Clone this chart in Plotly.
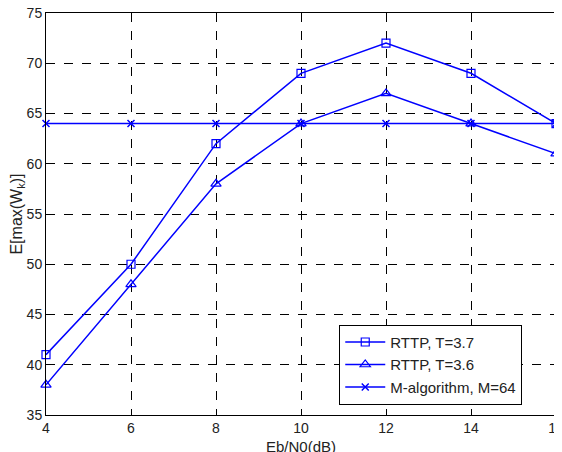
import plotly.graph_objects as go

ebn0 = [4, 6, 8, 10, 12, 14, 16]
rttp_37 = [41, 50, 62, 69, 72, 69, 64]
rttp_36 = [38, 48, 58, 64, 67, 64, 61]
m_alg = [64, 64, 64, 64, 64, 64, 64]

x_ticks = [4, 6, 8, 10, 12, 14, 16]
y_ticks = [35, 40, 45, 50, 55, 60, 65, 70, 75]

blue = '#0000ff'
font_family = 'Liberation Sans, Arial'
text_color = '#222222'

fig = go.Figure()
fig.add_trace(go.Scatter(
    x=ebn0, y=rttp_37, name='RTTP, T=3.7', mode='lines+markers',
    line=dict(color=blue, width=1.5),
    marker=dict(symbol='square-open', size=8, color=blue, line=dict(width=1.2)),
    cliponaxis=False
))
fig.add_trace(go.Scatter(
    x=ebn0, y=rttp_36, name='RTTP, T=3.6', mode='lines+markers',
    line=dict(color=blue, width=1.5),
    marker=dict(symbol='triangle-up-open', size=9, color=blue, line=dict(width=1.2)),
    cliponaxis=False
))
fig.add_trace(go.Scatter(
    x=ebn0, y=m_alg, name='M-algorithm, M=64', mode='lines+markers',
    line=dict(color=blue, width=1.5),
    marker=dict(symbol='x-thin-open', size=7, color=blue, line=dict(width=1.5, color=blue)),
    cliponaxis=False
))

axis_style = dict(
    showline=True, linecolor='black', linewidth=1, mirror='ticks',
    ticks='inside', ticklen=5, tickcolor='black',
    showgrid=True, gridcolor='black', griddash='dash', gridwidth=1,
    zeroline=False, ticklabeloverflow='allow',
    tickfont=dict(family=font_family, size=14, color=text_color),
)

fig.update_xaxes(
    range=[4, 16], tickvals=x_ticks, automargin='bottom',
    title=dict(text='Eb/N0(dB)', standoff=6,
               font=dict(family=font_family, size=15, color=text_color)),
    **axis_style
)
fig.update_yaxes(
    range=[35, 75], tickvals=y_ticks, automargin=False,
    title=dict(text='E[max(W<sub>k</sub>)]',
               font=dict(family=font_family, size=16, color=text_color)),
    **axis_style
)

# the page body has an 8px margin, so the figure is offset to keep the plot in place
fig.update_layout(
    width=562, height=452,
    margin=dict(l=38, r=14, t=5, b=45),
    plot_bgcolor='white',
    paper_bgcolor='white',
    showlegend=True,
    legend=dict(
        x=0.575, y=0.125, xanchor='left', yanchor='middle',
        bgcolor='white', bordercolor='black', borderwidth=1,
        font=dict(family=font_family, size=15, color=text_color),
        tracegroupgap=0, itemwidth=40,
    ),
)

fig.write_html("out.html")
